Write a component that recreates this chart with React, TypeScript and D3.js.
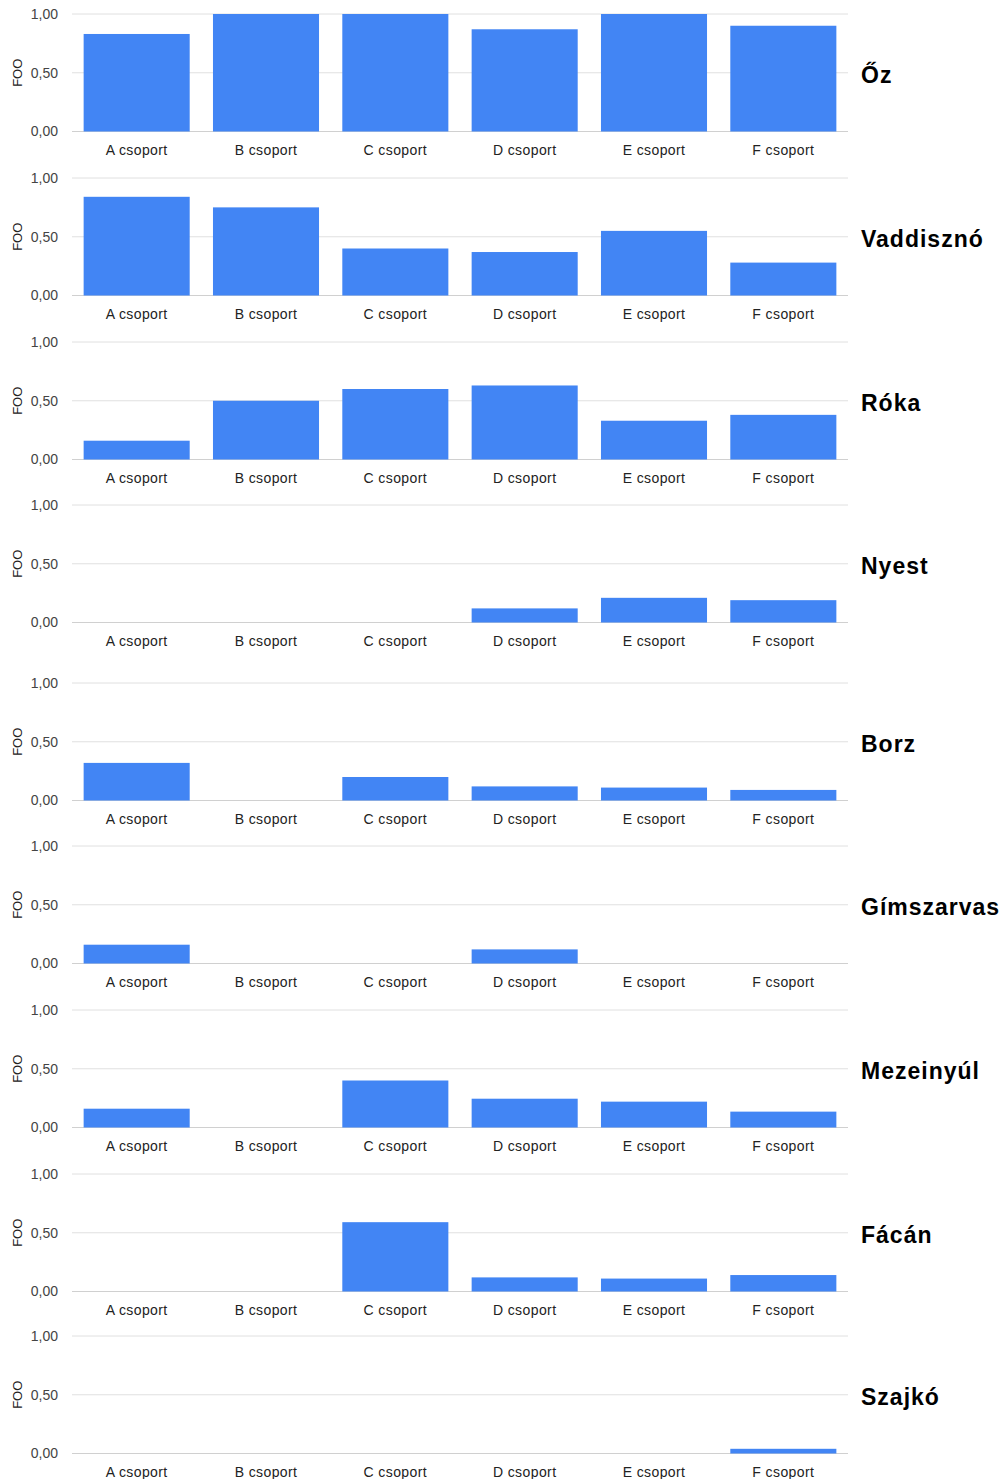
import React from "react";
import * as d3 from "d3";

const groups = ["A csoport", "B csoport", "C csoport", "D csoport", "E csoport", "F csoport"];
const species = ["Őz", "Vaddisznó", "Róka", "Nyest", "Borz", "Gímszarvas", "Mezeinyúl", "Fácán", "Szajkó"];
const ozValues = [0.83, 1.0, 1.0, 0.87, 1.0, 0.9];
const vaddisznoValues = [0.84, 0.75, 0.4, 0.37, 0.55, 0.28];
const rokaValues = [0.16, 0.5, 0.6, 0.63, 0.33, 0.38];
const nyestValues = [0, 0, 0, 0.12, 0.21, 0.19];
const borzValues = [0.32, 0, 0.2, 0.12, 0.11, 0.09];
const gimszarvasValues = [0.16, 0, 0, 0.12, 0, 0];
const mezeinyulValues = [0.16, 0, 0.4, 0.245, 0.22, 0.135];
const facanValues = [0, 0, 0.59, 0.12, 0.11, 0.14];
const szajkoValues = [0, 0, 0, 0, 0, 0.04];
const yTicks = [0, 0.5, 1];
const yAxisTitle = "FOO";

const seriesList = [ozValues, vaddisznoValues, rokaValues, nyestValues, borzValues, gimszarvasValues, mezeinyulValues, facanValues, szajkoValues];

// layout
const panelTops = [14, 178, 342, 505, 683, 846, 1010, 1174, 1336];
const plotH = 117.5;
const plotLeft = 72;
const plotRight = 848;
const FONT = "Arial, 'Liberation Sans', sans-serif";

const fmt = (v: number) => v.toFixed(2).replace(".", ",");

export default function App() {
  const x = d3.scaleBand<string>().domain(groups).range([plotLeft, plotRight]).paddingInner(0.18).paddingOuter(0.09);
  return (
    <svg width={1005} height={1479} style={{ position: "absolute", left: 0, top: 0, background: "#fff" }}>
      <rect x={0} y={0} width={1005} height={1479} fill="#fff" />
      {seriesList.map((vals, i) => {
        const top = panelTops[i];
        const y = d3.scaleLinear().domain([0, 1]).range([top + plotH, top]);
        return (
          <g key={i}>
            {yTicks.map((t) => (
              <g key={t}>
                <line x1={plotLeft} x2={plotRight} y1={y(t)} y2={y(t)} stroke={t === 0 ? "#d0d0d0" : "#e0e0e0"} strokeWidth={1} />
                <text x={58} y={y(t)} dy="0.35em" textAnchor="end" fontFamily={FONT} fontSize={14} fill="#444">
                  {fmt(t)}
                </text>
              </g>
            ))}
            <text
              transform={`translate(22,${y(0.5)}) rotate(-90)`}
              textAnchor="middle"
              fontFamily={FONT}
              fontSize={13}
              fill="#222"
            >
              {yAxisTitle}
            </text>
            {vals.map((v, j) =>
              v > 0 ? (
                <rect
                  key={j}
                  x={x(groups[j])!}
                  width={x.bandwidth()}
                  y={y(v)}
                  height={y(0) - y(v)}
                  fill="#4285F4"
                />
              ) : null
            )}
            {groups.map((g) => (
              <text
                key={g}
                x={x(g)! + x.bandwidth() / 2}
                y={y(0) + 23}
                textAnchor="middle"
                fontFamily={FONT}
                fontSize={14}
                letterSpacing={0.4}
                fill="#222"
              >
                {g}
              </text>
            ))}
            <text x={861} y={y(0.5) + 2} dy="0.38em" fontFamily={FONT} fontSize={23} letterSpacing={1} fontWeight="bold" fill="#000">
              {species[i]}
            </text>
          </g>
        );
      })}
    </svg>
  );
}
